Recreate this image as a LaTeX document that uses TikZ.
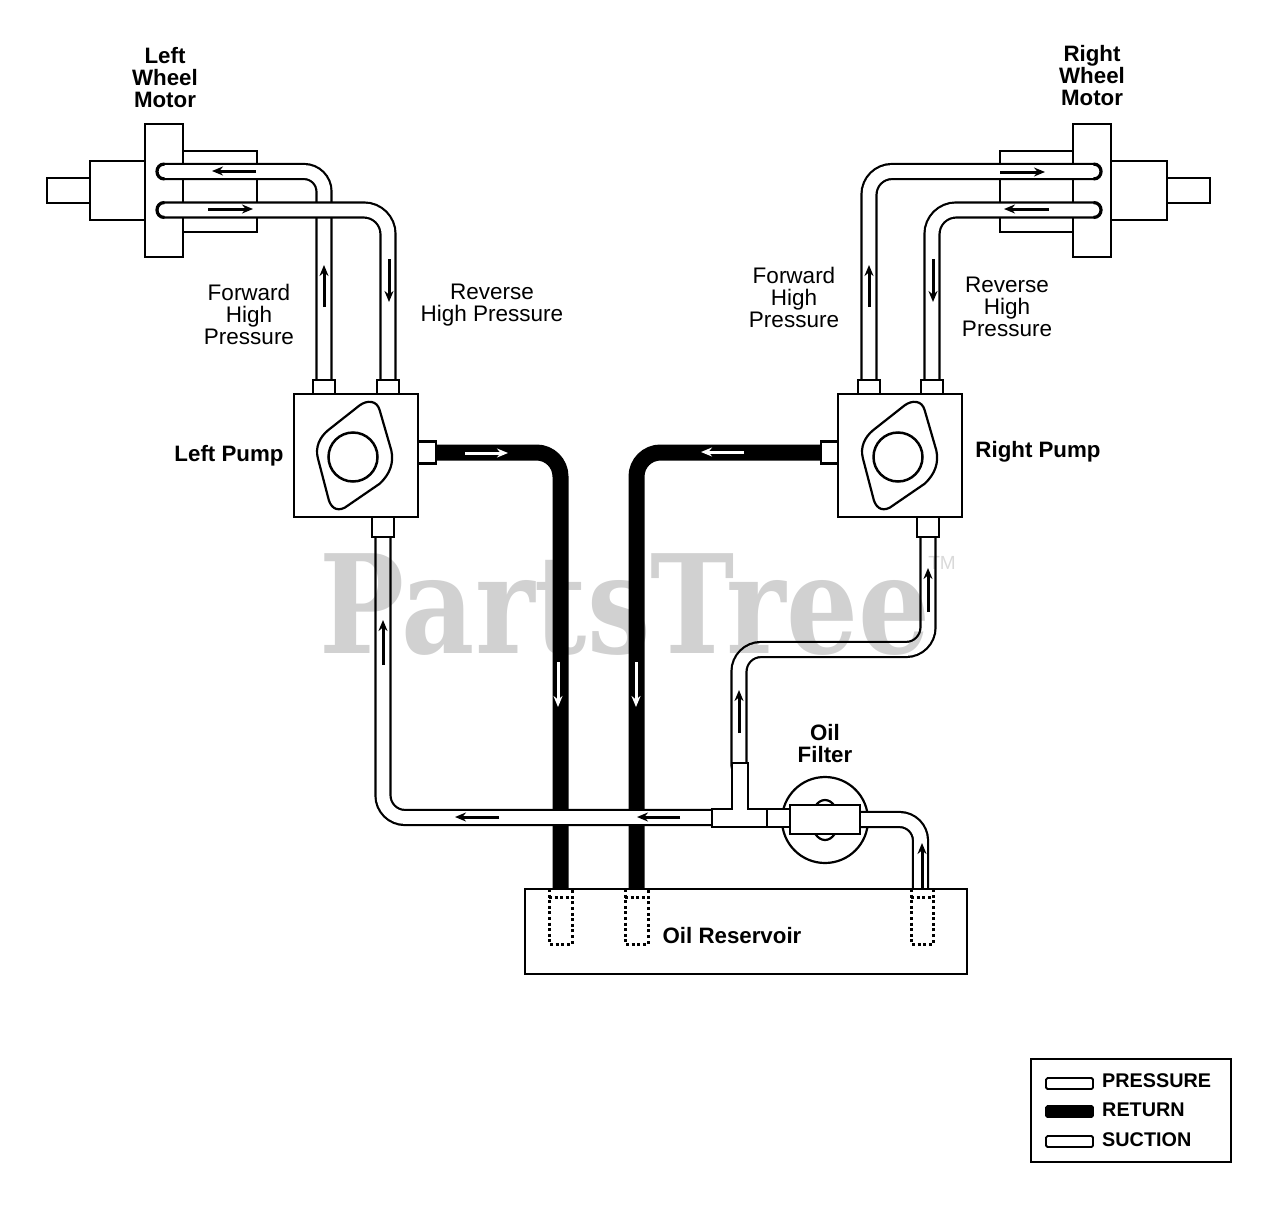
\documentclass[tikz,border=0pt]{standalone}
\usepackage{fontspec}
\usepackage{graphicx}
\setmainfont{Liberation Sans}
\newfontfamily\wmfont{DejaVu Serif}
\usetikzlibrary{arrows.meta,calc,shapes.geometric}
\pgfdeclarelayer{back}
\pgfdeclarelayer{pipes}
\pgfsetlayers{back,pipes,main}
\tikzset{
  box/.style={draw=black,fill=white,line width=2.5pt,inner sep=0pt,outer sep=0pt,rectangle},
  pipe/.style={draw=black,line width=2.2pt,double=white,double distance=12.8pt,line cap=round},
  returnpipe/.style={draw=black,line width=16pt,rounded corners=24pt},
  flow/.style={line width=3pt,-{Stealth[length=11pt,width=9pt]}},
  whiteflow/.style={flow,white},
  tubeend/.style={line width=3.2pt},
  hidden/.style={line width=3pt,dash pattern=on 3pt off 2.6pt},
  camline/.style={line width=2.2pt},
  lbl/.style={inner sep=0pt,align=center,font=\fontsize{22.5}{22}\selectfont},
  blbl/.style={inner sep=0pt,align=center,font=\fontsize{22.3}{22}\selectfont\bfseries},
  leg/.style={inner sep=0pt,anchor=west,font=\fontsize{19.8}{22}\selectfont\bfseries},
  swatch/.style={draw=black,line width=1.8pt,rounded corners=1.5pt},
}
\newcommand{\flowmark}[4][flow]{\coordinate (#2-a) at (#3);\coordinate (#2-b) at (#4);\draw[#1] (#2-a) -- (#2-b);}
\newcommand{\camshape}[1]{\draw[camline,shift={(#1)}] (-25,-26.7) -- (6.7,-51.7) .. controls (14,-57) and (24,-57) .. (26.7,-46.7) -- (38.3,-6.7) .. controls (41,6) and (37,17) .. (26.7,26.7) -- (-8.3,50.7) .. controls (-17,55) and (-23,50) .. (-25,40) -- (-35,1.7) .. controls (-38.3,-10) and (-33,-20) .. cycle;}
\begin{document}
\begin{tikzpicture}[x=1pt,y=-1pt]
\useasboundingbox (0,0) rectangle (1280,1210);
\begin{pgfonlayer}{back}
  \fill[white] (0,0) rectangle (1280,1210);
  % left motor
  \node[box,minimum width=43pt,minimum height=25pt] (lshaft) at (68.5,190.5) {};
  \node[box,minimum width=55pt,minimum height=59pt] (lbody) at (117.5,190.5) {};
  \node[box,minimum width=74pt,minimum height=81pt] (lrear) at (220,191.5) {};
  \node[box,minimum width=38pt,minimum height=133pt] (lflange) at (164,190.5) {};
  % right motor
  \node[box,minimum width=43pt,minimum height=25pt] (rshaft) at (1188.5,190.5) {};
  \node[box,minimum width=56pt,minimum height=59pt] (rbody) at (1139,190.5) {};
  \node[box,minimum width=73pt,minimum height=81pt] (rrear) at (1036.5,191.5) {};
  \node[box,minimum width=38pt,minimum height=133pt] (rflange) at (1092,190.5) {};
  % filter body
  \node[draw=black,fill=white,circle,line width=2.2pt,minimum size=86pt,inner sep=0pt] (fcirc) at (825,820) {};
  \node[draw=black,fill=white,ellipse,line width=2.2pt,minimum width=27pt,minimum height=40pt,inner sep=0pt] (foval) at (825,820) {};
\end{pgfonlayer}
% ports and pumps
\node[box,minimum width=124pt,minimum height=123pt] (lpump) at (356,455.5) {};
\node[box,minimum width=124pt,minimum height=123pt] (rpump) at (900,455.5) {};
\node[box,minimum width=22pt,minimum height=14pt] (lp1) at (324,387) {};
\node[box,minimum width=22pt,minimum height=14pt] (lp2) at (388,387) {};
\node[box,minimum width=22pt,minimum height=20pt] (lpS) at (383,527) {};
\node[box,minimum width=18pt,minimum height=22pt] (lpR) at (427,452.5) {};
\node[box,minimum width=22pt,minimum height=14pt] (rp1) at (869,387) {};
\node[box,minimum width=22pt,minimum height=14pt] (rp2) at (932,387) {};
\node[box,minimum width=22pt,minimum height=20pt] (rpS) at (928,527) {};
\node[box,minimum width=17pt,minimum height=22pt] (rpL) at (829.5,452.5) {};
\node[draw=black,circle,line width=2.5pt,minimum size=49pt,inner sep=0pt] (lhub) at (353,457) {};
\node[draw=black,circle,line width=2.5pt,minimum size=49pt,inner sep=0pt] (rhub) at (898,457) {};
\camshape{353,457}
\camshape{898,457}
% reservoir
\node[box,minimum width=442pt,minimum height=85pt] (res) at (746,931.5) {};
\coordinate (resA) at (560.5,889);
\coordinate (resB) at (636.5,889);
\coordinate (resC) at (920.5,892);
% tee and filter
\coordinate (teeL) at (716,817.5);
\coordinate (teeU) at (739,766);
\coordinate (bendS) at (739,649.5);
\draw[box] (712,809) -- (732,809) -- (732,763) -- (748,763) -- (748,809) -- (767,809) -- (767,827) -- (712,827) -- cycle;
\node[box,minimum width=23pt,minimum height=18pt] (fneck) at (778.5,818) {};
\node[box,minimum width=70pt,minimum height=29pt] (filter) at (825,819.5) {};
% return lines
\begin{pgfonlayer}{back}
  \draw[returnpipe] (lpR) -- (lpR -| resA) -- (resA);
  \draw[returnpipe] (rpL) -- (rpL -| resB) -- (resB);
\end{pgfonlayer}
% pressure and suction lines
\coordinate (lmA) at (164.5,171.5);
\coordinate (lmB) at (164.5,210);
\coordinate (rmA) at (1093.5,171.5);
\coordinate (rmB) at (1093.5,210);
\begin{pgfonlayer}{pipes}
  \draw[pipe,rounded corners=20pt] (lmA) -- (lmA -| lp1) -- (lp1);
  \draw[pipe,rounded corners=24pt] (lmB) -- (lmB -| lp2) -- (lp2);
  \draw[pipe,rounded corners=23pt] (rmA) -- (rmA -| rp1) -- (rp1);
  \draw[pipe,rounded corners=24pt] (rmB) -- (rmB -| rp2) -- (rp2);
  \draw[pipe,rounded corners=22pt] (teeL) -- (teeL -| lpS) -- (lpS);
  \draw[pipe,rounded corners=22pt] (teeU) -- (bendS) -- (bendS -| rpS) -- (rpS);
  \draw[pipe,rounded corners=21pt] (filter.east) -- (filter.east -| resC) -- (resC);
\end{pgfonlayer}
% heavier rounded tube ends
\draw[tubeend] (164.5,164) .. controls (154.5,164) and (154.5,179) .. (164.5,179);
\draw[tubeend] (164.5,202.5) .. controls (154.5,202.5) and (154.5,217.5) .. (164.5,217.5);
\draw[tubeend] (1093.5,164) .. controls (1103.5,164) and (1103.5,179) .. (1093.5,179);
\draw[tubeend] (1093.5,202.5) .. controls (1103.5,202.5) and (1103.5,217.5) .. (1093.5,217.5);
% hidden tube ends in the reservoir
\draw[hidden] (549,889) -- (549,944) -- (572,944) -- (572,889);
\draw[hidden] (549,897) -- (572,897);
\draw[hidden] (625,889) -- (625,944) -- (648,944) -- (648,889);
\draw[hidden] (625,897) -- (648,897);
\draw[hidden] (911,889) -- (911,944) -- (933,944) -- (933,889);
\draw[hidden] (911,897) -- (933,897);
% flow arrows
\flowmark{f1}{256,171}{212,171}
\flowmark{f2}{208,209}{253,209}
\flowmark{f3}{324,307}{324,265}
\flowmark{f4}{389,259}{389,302}
\flowmark{f5}{1000,172}{1045,172}
\flowmark{f6}{1049,209}{1004,209}
\flowmark{f7}{869,307}{869,265}
\flowmark{f8}{933,259}{933,302}
\flowmark{f9}{383,665}{383,620}
\flowmark{f10}{499,817}{455,817}
\flowmark{f11}{680,817}{637,817}
\flowmark{f12}{928,612}{928,568}
\flowmark{f13}{739,733}{739,690}
\flowmark{f14}{922,889}{922,843}
\flowmark[whiteflow]{f15}{465,453}{508,453}
\flowmark[whiteflow]{f16}{744,452}{701,452}
\flowmark[whiteflow]{f17}{558,662}{558,707}
\flowmark[whiteflow]{f18}{636,662}{636,707}
% labels
\node[blbl] (tLM) at (165,78) {Left\\Wheel\\Motor};
\node[blbl] (tRM) at (1092,76) {Right\\Wheel\\Motor};
\node[lbl] (tFL) at (249,314) {Forward\\High\\Pressure};
\node[lbl] (tRL) at (492,305) {Reverse\\High Pressure};
\node[lbl] (tFR) at (794,297) {Forward\\High\\Pressure};
\node[lbl] (tRR) at (1007,307) {Reverse\\High\\Pressure};
\node[blbl] (tLP) at (229,456) {Left Pump};
\node[blbl] (tRP) at (1038,452) {Right Pump};
\node[blbl] (tOF) at (825,744) {Oil\\Filter};
\node[blbl] (tOR) at (732,936) {Oil Reservoir};
% legend
\node[box,line width=2pt,minimum width=200pt,minimum height=103pt] (legend) at (1131,1110.5) {};
\draw[swatch,fill=white] (1046,1078) rectangle (1093,1089);
\draw[swatch,fill=black] (1046,1106) rectangle (1093,1117);
\draw[swatch,fill=white] (1046,1136) rectangle (1093,1147);
\node[leg] (lg1) at (1102,1081) {PRESSURE};
\node[leg] (lg2) at (1102,1110) {RETURN};
\node[leg] (lg3) at (1102,1140) {SUCTION};
% watermark printed over the lines
\node[inner sep=0pt,anchor=base,text=black,text opacity=.18,font=\fontsize{137}{140}\selectfont\wmfont\bfseries] (wm) at (625,653) {\scalebox{.826}[1]{PartsTree}};
\node[inner sep=0pt,text=black,text opacity=.15,font=\fontsize{19}{20}\selectfont] (tm) at (942,563) {TM};
\end{tikzpicture}
\end{document}
